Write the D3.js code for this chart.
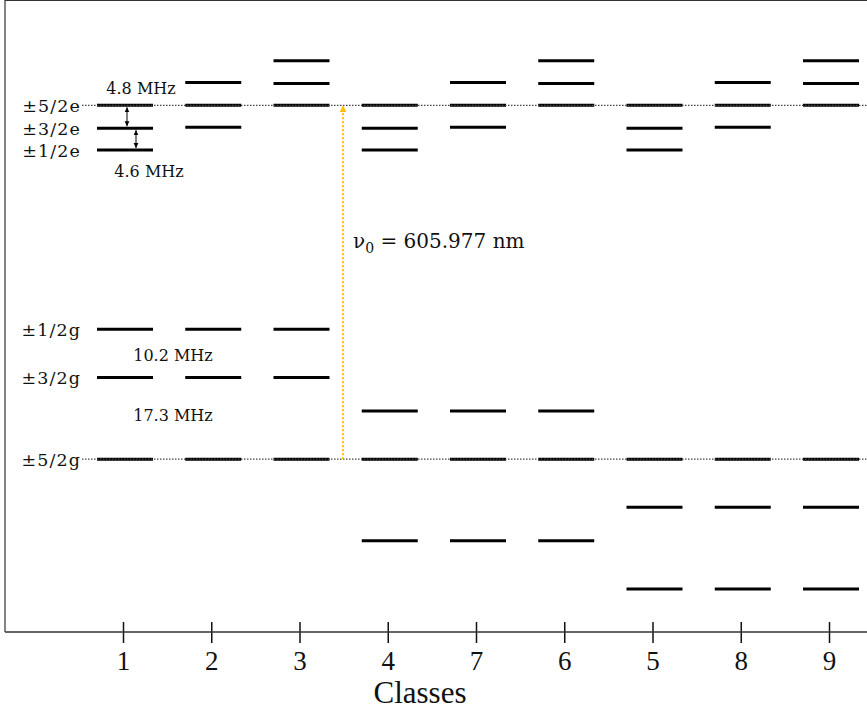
<!DOCTYPE html>
<html>
<head>
<meta charset="utf-8">
<script src="https://cdn.jsdelivr.net/npm/d3@7"></script>
<style>
  body { margin: 0; background: #fff; }
</style>
</head>
<body>
<div id="chart"></div>
<script>
// classes, in the order they sit along the axis
var classes = ["1", "2", "3", "4", "7", "6", "5", "8", "9"];

// excited sublevels (MHz from the ±5/2e level) for each class
var excitedLevels = [
  [0, -4.8, -9.4],
  [4.8, 0, -4.6],
  [9.4, 4.6, 0],
  [0, -4.8, -9.4],
  [4.8, 0, -4.6],
  [9.4, 4.6, 0],
  [0, -4.8, -9.4],
  [4.8, 0, -4.6],
  [9.4, 4.6, 0]
];

// ground sublevels (MHz from the ±5/2g level) for each class
var groundLevels = [
  [27.5, 17.3, 0],
  [27.5, 17.3, 0],
  [27.5, 17.3, 0],
  [10.2, 0, -17.3],
  [10.2, 0, -17.3],
  [10.2, 0, -17.3],
  [0, -10.2, -27.5],
  [0, -10.2, -27.5],
  [0, -10.2, -27.5]
];

// level names on the left, matched to the levels of class 1
var excitedNames = ["±5/2e", "±3/2e", "±1/2e"];
var groundNames = ["±1/2g", "±3/2g", "±5/2g"];

// splitting annotations
var excitedSplits = ["4.8 MHz", "4.6 MHz"];
var groundSplits = ["10.2 MHz", "17.3 MHz"];
var transitionLabel = "605.977 nm";

function drawChart() {

  var svgWidth = 867;
  var svgHeight = 710;
  var axisY = 632;
  var serif = "'DejaVu Serif', serif";

  var svg = d3.select("#chart")
    .append("svg")
    .attr("width", svgWidth)
    .attr("height", svgHeight);

  // scales
  var x = d3.scalePoint()
    .domain(classes)
    .range([123, 829]);

  // the optical gap is broken, so each manifold gets its own scale (same MHz/px)
  var yE = d3.scaleLinear().domain([-9.4, 9.4]).range([150, 60.7]);
  var yG = d3.scaleLinear().domain([-27.5, 27.5]).range([589, 329.3]);

  // arrow heads
  var defs = svg.append("defs");
  defs.append("marker")
    .attr("id", "blackHead")
    .attr("markerUnits", "userSpaceOnUse")
    .attr("markerWidth", 6).attr("markerHeight", 6)
    .attr("refX", 5).attr("refY", 3)
    .attr("orient", "auto-start-reverse")
    .append("path")
    .attr("d", "M0,0.6 L5,3 L0,5.4 z")
    .attr("fill", "#000");
  defs.append("marker")
    .attr("id", "orangeHead")
    .attr("markerUnits", "userSpaceOnUse")
    .attr("markerWidth", 8).attr("markerHeight", 8)
    .attr("refX", 6).attr("refY", 4)
    .attr("orient", "auto")
    .append("path")
    .attr("d", "M0,0.5 L7,4 L0,7.5 z")
    .attr("fill", "#FFC000");

  // frame: left, top and bottom
  svg.append("path")
    .attr("d", "M5,0.5 H867 M5,0 V" + axisY)
    .attr("fill", "none")
    .attr("stroke", "#333")
    .attr("stroke-width", 1.2);

  // level bars
  var flat = [];
  classes.forEach(function(c, i) {
    excitedLevels[i].forEach(function(v) { flat.push({ c: c, y: yE(v) }); });
    groundLevels[i].forEach(function(v) { flat.push({ c: c, y: yG(v) }); });
  });

  svg.append("g")
    .selectAll("line")
    .data(flat)
    .enter()
    .append("line")
    .attr("x1", d => x(d.c) - 26)
    .attr("x2", d => x(d.c) + 30)
    .attr("y1", d => d.y)
    .attr("y2", d => d.y)
    .attr("stroke", "#000")
    .attr("stroke-width", 3);

  // dotted reference lines for ±5/2e and ±5/2g
  svg.append("g")
    .selectAll("line")
    .data([yE(0), yG(0)])
    .enter()
    .append("line")
    .attr("x1", 82)
    .attr("x2", svgWidth)
    .attr("y1", d => d)
    .attr("y2", d => d)
    .attr("stroke", "#444")
    .attr("stroke-width", 1.4)
    .attr("stroke-dasharray", "1.5,1.5");

  // level names
  svg.append("g")
    .selectAll("text")
    .data(excitedLevels[0].map((v, i) => ({ y: yE(v), t: excitedNames[i] }))
      .concat(groundLevels[0].map((v, i) => ({ y: yG(v), t: groundNames[i] }))))
    .enter()
    .append("text")
    .attr("x", 81)
    .attr("y", d => d.y + 6.5)
    .attr("text-anchor", "end")
    .attr("font-family", serif)
    .attr("font-size", 17.5)
    .attr("letter-spacing", 1.1)
    .attr("fill", "#111")
    .text(d => d.t);

  // splitting arrows in class 1
  var splitArrows = [
    { x: 127, a: excitedLevels[0][0], b: excitedLevels[0][1] },
    { x: 136, a: excitedLevels[0][1], b: excitedLevels[0][2] }
  ];
  svg.append("g")
    .selectAll("line")
    .data(splitArrows)
    .enter()
    .append("line")
    .attr("x1", d => d.x)
    .attr("x2", d => d.x)
    .attr("y1", d => yE(d.a) + 2)
    .attr("y2", d => yE(d.b) - 2)
    .attr("stroke", "#000")
    .attr("stroke-width", 1)
    .attr("marker-start", "url(#blackHead)")
    .attr("marker-end", "url(#blackHead)");

  // splitting values
  var ann = [
    { t: excitedSplits[0], x: 141, y: yE(0) - 11 },
    { t: excitedSplits[1], x: 149, y: yE(-9.4) + 27 },
    { t: groundSplits[0], x: 173, y: yG(17.3) - 16 },
    { t: groundSplits[1], x: 173, y: yG(17.3) + 44 }
  ];
  svg.append("g")
    .selectAll("text")
    .data(ann)
    .enter()
    .append("text")
    .attr("x", d => d.x)
    .attr("y", d => d.y)
    .attr("text-anchor", "middle")
    .attr("font-family", serif)
    .attr("font-size", 16)
    .attr("fill", "#111")
    .text(d => d.t);

  // optical transition arrow
  svg.append("line")
    .attr("x1", 343).attr("x2", 343)
    .attr("y1", yG(0))
    .attr("y2", yE(0) + 1)
    .attr("stroke", "#FFC000")
    .attr("stroke-width", 2)
    .attr("stroke-dasharray", "2,2")
    .attr("marker-end", "url(#orangeHead)");

  var nu = svg.append("text")
    .attr("x", 353)
    .attr("y", 248)
    .attr("font-family", serif)
    .attr("font-size", 20)
    .attr("fill", "#111");
  nu.append("tspan").text("ν");
  nu.append("tspan").attr("dy", 5).attr("font-size", 14).text("0");
  nu.append("tspan").attr("dy", -5).text(" = " + transitionLabel);

  // x axis, ticks cross the line
  var bottomAxis = d3.axisBottom(x).tickSize(11);
  var xAxis = svg.append("g")
    .attr("transform", `translate(0, ${axisY})`)
    .call(bottomAxis);
  xAxis.select(".domain").remove();
  xAxis.selectAll(".tick line")
    .attr("y1", -10)
    .attr("stroke", "#111")
    .attr("stroke-width", 1.5);
  xAxis.selectAll(".tick text")
    .attr("y", 38)
    .attr("dy", null)
    .attr("font-family", "'Liberation Serif', serif")
    .attr("font-size", 27)
    .attr("fill", "#111");

  svg.append("line")
    .attr("x1", 5).attr("x2", svgWidth)
    .attr("y1", axisY).attr("y2", axisY)
    .attr("stroke", "#333")
    .attr("stroke-width", 1.3);

  svg.append("text")
    .attr("x", 420)
    .attr("y", 703)
    .attr("text-anchor", "middle")
    .attr("font-family", "'Liberation Serif', serif")
    .attr("font-size", 31)
    .attr("fill", "#111")
    .text("Classes");
}

drawChart();
</script>
</body>
</html>
